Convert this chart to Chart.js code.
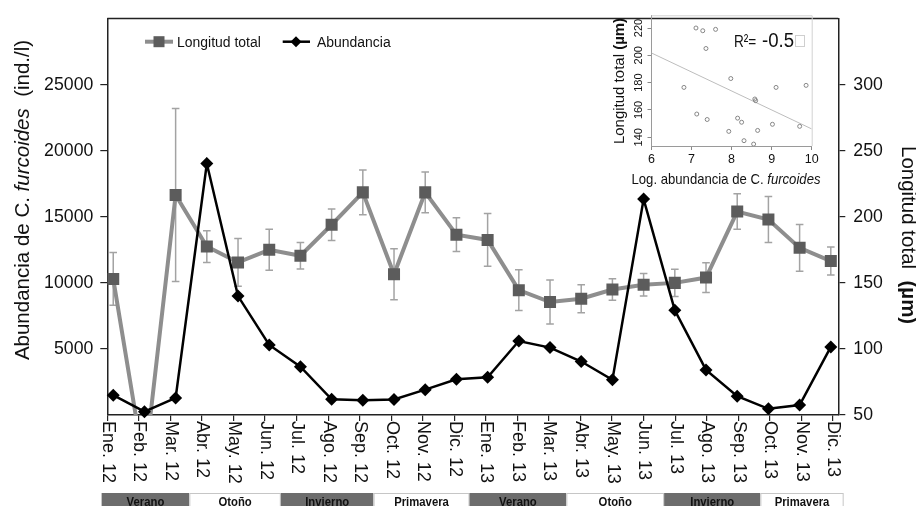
<!DOCTYPE html>
<html><head><meta charset="utf-8">
<script src="https://cdn.jsdelivr.net/npm/chart.js@4"></script>
<style>
html,body{margin:0;padding:0;background:#fff;overflow:hidden}
#wrap{position:relative;width:916px;height:506px;background:#fff}
#main{position:absolute;left:0;top:0}
#inset{position:absolute;left:600px;top:0}
</style></head><body>
<div id="wrap"><canvas id="main" width="916" height="506"></canvas><canvas id="inset" width="240" height="192"></canvas></div>
<script>
// ---------- data ----------
const months = ['Ene. 12','Feb. 12','Mar. 12','Abr. 12','May. 12','Jun. 12','Jul. 12','Ago. 12','Sep. 12','Oct. 12','Nov. 12','Dic. 12',
                'Ene. 13','Feb. 13','Mar. 13','Abr. 13','May. 13','Jun. 13','Jul. 13','Ago. 13','Sep. 13','Oct. 13','Nov. 13','Dic. 13'];
const abundancia = [1500, 250, 1290, 19030, 9000, 5300, 3660, 1190, 1120, 1170, 1920, 2710,
                    2860, 5600, 5100, 4050, 2660, 16340, 7930, 3410, 1420, 470, 750, 5150];
const longitud = [153, 10, 216.5, 177.5, 165.5, 175, 170.5, 194, 218.5, 156.5, 218.5, 186.5,
                  182.5, 144.5, 135.5, 138, 145, 148.5, 150, 154, 204, 198, 176.5, 166.5];
const longitudErr = [20, 10, 65.5, 12, 18, 15.5, 10, 12, 17, 19.3, 15.5, 12.8,
                     20, 15.4, 16.7, 10.6, 8.1, 8.5, 10.3, 11.2, 13.5, 17.4, 17.7, 10.6];
const leftTicks = [5000, 10000, 15000, 20000, 25000];
const rightTicks = [50, 100, 150, 200, 250, 300];
const seasons = ['Verano','Otoño','Invierno','Primavera','Verano','Otoño','Invierno','Primavera'];
const seasonEdges = [-0.18, 2.6, 5.5, 8.44, 11.48, 14.55, 17.65, 20.7, 23.34];

const insetLogAbund = [7.11, 7.28, 7.60, 7.36, 6.81, 7.98, 9.11, 9.86, 8.58, 8.60, 7.13, 7.39, 8.15, 8.25, 7.93, 8.65, 9.02, 9.70, 8.31, 8.55];
const insetLongitud = [220, 218, 219, 205, 176.5, 183, 176.5, 178, 168, 166.8, 157, 153, 154, 151, 144.3, 145, 149.5, 148, 137.5, 135];
const insetXTicks = [6, 7, 8, 9, 10];
const insetYTicks = [140, 160, 180, 200, 220];
const regX = [6, 10];
const regY = [201.7, 146.1];
const r2Value = '-0.5';

// ---------- helpers ----------
const FF = "'Liberation Sans', Arial, sans-serif";
Chart.defaults.font.family = FF;
Chart.defaults.color = '#111';

function drawParts(ctx, parts, x, y, angle, align, sx) {
  ctx.save();
  let total = 0;
  parts.forEach(p => { ctx.font = p.f; p.w = ctx.measureText(p.t).width; total += p.w; });
  ctx.translate(x, y);
  ctx.rotate(angle);
  ctx.scale(sx || 1, 1);
  let cx = align === 'center' ? -total / 2 : 0;
  ctx.textAlign = 'left';
  ctx.textBaseline = 'alphabetic';
  ctx.fillStyle = '#111';
  parts.forEach(p => { ctx.font = p.f; ctx.fillText(p.t, cx, 0); cx += p.w; });
  ctx.restore();
}

// ---------- main chart decorations ----------
const mainDecor = {
  id: 'mainDecor',
  beforeDatasetsDraw(chart) {
    const ctx = chart.ctx, a = chart.chartArea;
    const xd = chart.scales.xd, yR = chart.scales.yR;
    ctx.save();
    ctx.beginPath(); ctx.rect(a.left, a.top, a.right - a.left, a.bottom - a.top); ctx.clip();
    ctx.strokeStyle = '#a3a3a3'; ctx.lineWidth = 1.5;
    longitud.forEach((v, i) => {
      const x = xd.getPixelForValue(i);
      const yt = yR.getPixelForValue(v + longitudErr[i]);
      const yb = yR.getPixelForValue(v - longitudErr[i]);
      ctx.beginPath();
      ctx.moveTo(x, yt); ctx.lineTo(x, yb);
      ctx.moveTo(x - 3.8, yt); ctx.lineTo(x + 3.8, yt);
      ctx.moveTo(x - 3.8, yb); ctx.lineTo(x + 3.8, yb);
      ctx.stroke();
    });
    ctx.restore();
  },
  afterDraw(chart) {
    const ctx = chart.ctx, a = chart.chartArea, xs = chart.scales.x;
    ctx.save();
    // top frame line
    ctx.strokeStyle = '#222'; ctx.lineWidth = 1.5;
    ctx.beginPath(); ctx.moveTo(a.left, a.top); ctx.lineTo(a.right, a.top); ctx.stroke();

    // x labels, rotated clockwise
    ctx.fillStyle = '#111';
    ctx.font = '18px ' + FF;
    months.forEach((m, i) => {
      const px = xs.getPixelForValue(i);
      ctx.save();
      ctx.translate(px, 421);
      ctx.rotate(Math.PI / 2);
      ctx.textAlign = 'left'; ctx.textBaseline = 'alphabetic';
      ctx.fillText(m, 0, 4.5);
      ctx.restore();
    });

    // season bar
    seasons.forEach((s, k) => {
      const x0 = xs.getPixelForValue(seasonEdges[k]);
      const x1 = xs.getPixelForValue(seasonEdges[k + 1]);
      const dark = (k % 2 === 0);
      if (dark) {
        ctx.fillStyle = '#6d6d6d';
        ctx.fillRect(x0, 493, x1 - x0, 14);
      } else {
        ctx.fillStyle = '#fff';
        ctx.fillRect(x0, 493, x1 - x0, 14);
        ctx.strokeStyle = '#c6c6c6'; ctx.lineWidth = 1;
        ctx.strokeRect(x0 + 0.5, 493.5, x1 - x0 - 1, 14);
      }
      drawParts(ctx, [{ t: s, f: 'bold 13px ' + FF }], (x0 + x1) / 2, 505.5, 0, 'center', 0.87);
    });

    // legend
    ctx.strokeStyle = '#8e8e8e'; ctx.lineWidth = 4;
    ctx.beginPath(); ctx.moveTo(145, 41.7); ctx.lineTo(173, 41.7); ctx.stroke();
    ctx.fillStyle = '#5c5c5c'; ctx.fillRect(153.5, 36.2, 11, 11);
    drawParts(ctx, [{ t: 'Longitud total', f: '15.5px ' + FF }], 177, 46.5, 0, 'left', 0.9);
    ctx.strokeStyle = '#000'; ctx.lineWidth = 2.5;
    ctx.beginPath(); ctx.moveTo(282.7, 41.7); ctx.lineTo(310, 41.7); ctx.stroke();
    ctx.fillStyle = '#000';
    ctx.beginPath(); ctx.moveTo(296 - 5.5, 41.7); ctx.lineTo(296, 36.2); ctx.lineTo(296 + 5.5, 41.7); ctx.lineTo(296, 47.2); ctx.closePath(); ctx.fill();
    drawParts(ctx, [{ t: 'Abundancia', f: '15.5px ' + FF }], 317, 46.5, 0, 'left', 0.9);

    // axis titles
    drawParts(ctx, [
      { t: 'Abundancia de C. ', f: '20.5px ' + FF },
      { t: 'furcoides', f: 'italic 20.5px ' + FF },
      { t: '  (ind./l)', f: '20.5px ' + FF }
    ], 28.7, 200, -Math.PI / 2, 'center');
    drawParts(ctx, [
      { t: 'Longitud total  ', f: '20.5px ' + FF },
      { t: '(µm)', f: 'bold 20.5px ' + FF }
    ], 902, 146, Math.PI / 2, 'left');
    ctx.restore();
  }
};

new Chart(document.getElementById('main'), {
  type: 'line',
  data: {
    datasets: [
      {
        label: 'Abundancia',
        data: abundancia.map((v, i) => ({ x: i, y: v })),
        xAxisID: 'xd', yAxisID: 'yL',
        borderColor: '#000', borderWidth: 2.5,
        pointStyle: 'rectRot', pointRadius: 6.5,
        pointBackgroundColor: '#000', pointBorderColor: '#000', pointBorderWidth: 0,
        tension: 0, clip: false
      },
      {
        label: 'Longitud total',
        data: longitud.map((v, i) => ({ x: i, y: v })),
        xAxisID: 'xd', yAxisID: 'yR',
        borderColor: '#8e8e8e', borderWidth: 4,
        pointStyle: 'rect', pointRadius: 8.5,
        pointBackgroundColor: '#5c5c5c', pointBorderColor: '#5c5c5c', pointBorderWidth: 0,
        tension: 0
      }
    ]
  },
  options: {
    responsive: false, animation: false, devicePixelRatio: 1,
    layout: { padding: { top: 13.5, left: 0, right: 0, bottom: 0 } },
    plugins: { legend: { display: false }, tooltip: { enabled: false } },
    scales: {
      x: {
        type: 'linear', position: 'bottom', min: 0, max: 23.17,
        afterBuildTicks: s => { s.ticks = months.map((m, i) => ({ value: i })); },
        ticks: { display: false },
        grid: { drawOnChartArea: false, tickLength: 6, color: '#222', lineWidth: 1.2 },
        border: { color: '#222', width: 1.5 },
        afterFit: s => { s.height = 91; }
      },
      xd: { type: 'linear', display: false, min: -0.19, max: 23.24 },
      yL: {
        type: 'linear', position: 'left', min: 0, max: 30000,
        afterBuildTicks: s => { s.ticks = leftTicks.map(v => ({ value: v })); },
        ticks: { callback: v => String(v), color: '#111', font: { size: 17.7 }, padding: 7 },
        grid: { drawOnChartArea: false, tickLength: 7, color: '#222', lineWidth: 1.2 },
        border: { color: '#222', width: 1.5 },
        afterFit: s => { s.width = 107.3; }
      },
      yR: {
        type: 'linear', position: 'right', min: 50, max: 350,
        afterBuildTicks: s => { s.ticks = rightTicks.map(v => ({ value: v })); },
        ticks: { callback: v => String(v), color: '#111', font: { size: 17.7 }, padding: 8 },
        grid: { drawOnChartArea: false, tickLength: 7, color: '#222', lineWidth: 1.2 },
        border: { color: '#222', width: 1.5 },
        afterFit: s => { s.width = 77.7; }
      }
    }
  },
  plugins: [mainDecor]
});

// ---------- inset ----------
const insetDecor = {
  id: 'insetDecor',
  afterDraw(chart) {
    const ctx = chart.ctx, a = chart.chartArea, ys = chart.scales.y;
    ctx.save();
    ctx.strokeStyle = '#d2d2d2'; ctx.lineWidth = 1;
    ctx.beginPath();
    ctx.moveTo(a.left, a.top + 0.5); ctx.lineTo(a.right + 0.5, a.top + 0.5); ctx.lineTo(a.right + 0.5, a.bottom);
    ctx.stroke();
    // y tick labels rotated
    insetYTicks.forEach(v => {
      drawParts(ctx, [{ t: String(v), f: '11px ' + FF }], 42.3, ys.getPixelForValue(v), -Math.PI / 2, 'center');
    });
    // titles
    drawParts(ctx, [
      { t: 'Longitud total ', f: '15px ' + FF },
      { t: '(µm)', f: 'bold 15px ' + FF }
    ], 23.8, 81, -Math.PI / 2, 'center');
    drawParts(ctx, [
      { t: 'Log. abundancia de C. ', f: '15px ' + FF },
      { t: 'furcoides', f: 'italic 15px ' + FF }
    ], 126, 184, 0, 'center', 0.875);
    // R²
    drawParts(ctx, [{ t: 'R²=', f: '17px ' + FF }], 134, 47, 0, 'left', 0.8);
    drawParts(ctx, [{ t: r2Value, f: '20px ' + FF }], 162, 47, 0, 'left', 0.93);
    ctx.strokeStyle = '#cfcfcf'; ctx.lineWidth = 1;
    ctx.strokeRect(195.5, 35.5, 9, 11);
    ctx.restore();
  }
};

new Chart(document.getElementById('inset'), {
  type: 'scatter',
  data: {
    datasets: [
      {
        type: 'scatter',
        data: insetLogAbund.map((v, i) => ({ x: v, y: insetLongitud[i] })),
        pointRadius: 2, pointBorderColor: '#7a7a7a', pointBackgroundColor: 'rgba(0,0,0,0)', pointBorderWidth: 0.9
      },
      {
        type: 'line',
        data: regX.map((v, i) => ({ x: v, y: regY[i] })),
        borderColor: '#bdbdbd', borderWidth: 1, pointRadius: 0, tension: 0
      }
    ]
  },
  options: {
    responsive: false, animation: false, devicePixelRatio: 1,
    layout: { padding: { top: 15.3, right: 28.3, left: 0, bottom: 0 } },
    plugins: { legend: { display: false }, tooltip: { enabled: false } },
    scales: {
      x: {
        type: 'linear', min: 6, max: 10,
        afterBuildTicks: s => { s.ticks = insetXTicks.map(v => ({ value: v })); },
        ticks: { color: '#111', font: { size: 12.5 }, padding: 2 },
        grid: { drawOnChartArea: false, tickLength: 4, color: '#888' },
        border: { color: '#9a9a9a', width: 1 },
        afterFit: s => { s.height = 46; }
      },
      y: {
        type: 'linear', min: 133.6, max: 229.3,
        afterBuildTicks: s => { s.ticks = insetYTicks.map(v => ({ value: v })); },
        ticks: { display: false },
        grid: { drawOnChartArea: false, tickLength: 4, color: '#888' },
        border: { color: '#9a9a9a', width: 1 },
        afterFit: s => { s.width = 51.5; }
      }
    }
  },
  plugins: [insetDecor]
});
</script>
</body></html>
